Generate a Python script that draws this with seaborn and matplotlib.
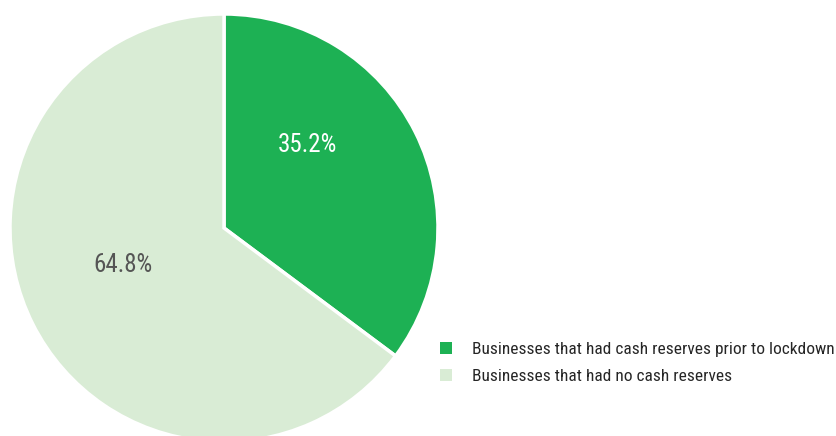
import seaborn as sns
import matplotlib.pyplot as plt
from matplotlib.font_manager import fontManager
from matplotlib.patches import Patch

labels = ["Businesses that had cash reserves prior to lockdown",
          "Businesses that had no cash reserves"]
shares = [35.2, 64.8]
colors = ["#1db154", "#d9ecd5"]
pct_colors = ["white", "#555555"]

sns.set_theme(style="white")
names = {f.name for f in fontManager.ttflist}
narrow = [n for n in ["Roboto Condensed", "Liberation Sans Narrow", "Arial Narrow"] if n in names]
font = narrow[0] if narrow else "Roboto"
plt.rcParams["font.family"] = [font, "DejaVu Sans"]
legend_size = 12.5 if narrow else 10.8

fig = plt.figure(figsize=(8.37, 4.36), dpi=100)
ax = fig.add_axes([10 / 837, -6 / 436, 428 / 837, 428 / 436])
wedges, _ = ax.pie(shares, colors=sns.color_palette(colors), startangle=90,
                   counterclock=False, radius=1,
                   wedgeprops=dict(edgecolor="white", linewidth=2.5))
ax.set_xlim(-1, 1)
ax.set_ylim(-1, 1)
ax.set_aspect("equal")
ax.axis("off")

label_pos = [(0.39, 0.39), (-0.47, -0.175)]
for (x, y), s, c in zip(label_pos, shares, pct_colors):
    ax.text(x, y, f"{s:.1f}%", ha="center", va="center", fontsize=18, color=c)

handles = [Patch(facecolor=c, edgecolor="none") for c in colors]
fig.legend(handles, labels, loc="upper left", bbox_to_anchor=(424 / 837, 1 - 326 / 436),
           frameon=False, fontsize=legend_size, labelcolor="#262626",
           handlelength=0.7, handleheight=0.7, handletextpad=1.15, labelspacing=0.72)

fig.savefig("out.png", dpi=100)
